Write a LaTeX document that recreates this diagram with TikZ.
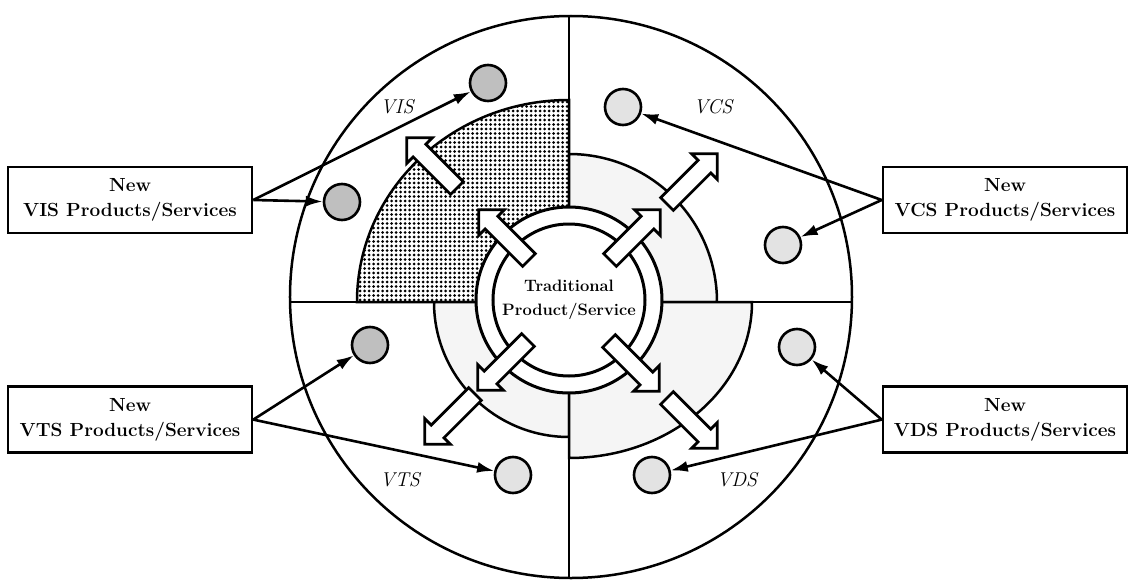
\documentclass[tikz,border=0pt]{standalone}
\usepackage{tikz}
\usetikzlibrary{arrows.meta, positioning, patterns, patterns.meta}
\tikzset{
  prodbox/.style={
    rectangle,
    draw,
    line width=2.6pt,
    align=center,
    minimum width=244pt,
    minimum height=66pt,
    inner sep=4pt,
    font=\bfseries\fontsize{19}{25}\selectfont
  },
  offer/.style={
    circle,
    draw,
    line width=2.6pt,
    minimum size=36pt,
    inner sep=0pt,
    fill=gray!22
  },
  offerdark/.style={offer, fill=gray!50},
  zone/.style={draw, line width=2.5pt},
  zonelabel/.style={font=\itshape\fontsize{20}{22}\selectfont},
  centertext/.style={align=center, font=\bfseries\fontsize{16.5}{24}\selectfont},
  ringline/.style={line width=3pt},
  arrow/.style={-{Latex[length=17pt, width=11pt]}, line width=2.6pt},
  blockline/.style={draw, fill=white, line width=2.8pt, line join=miter},
  blockarr/.pic={
    \path[blockline] (0,-9) -- (53,-9) -- (53,-18) -- (71,0) -- (53,18) -- (53,9) -- (0,9) -- cycle;
  }
}
\begin{document}
\begin{tikzpicture}[x=1pt, y=1pt]
  \useasboundingbox (-569,-277) rectangle (563,302);

  % zones of the four quadrants
  \draw[zone, pattern={Dots[distance=4.5pt, radius=1.5pt]}] (0,0) -- (-212,0) arc[start angle=180, end angle=90, x radius=212, y radius=202] -- cycle;
  \draw[zone, fill=gray!8] (0,0) -- (0,148) arc[start angle=90, end angle=0, radius=148] -- cycle;
  \draw[zone, fill=gray!8] (0,0) -- (-135,0) arc[start angle=180, end angle=270, radius=135] -- cycle;
  \draw[zone, fill=gray!8] (0,0) -- (183,0) arc[start angle=0, end angle=-90, x radius=183, y radius=156] -- cycle;

  \draw[zone] (-279,0) -- (283,0);
  \draw[zone] (0,-276) -- (0,286);
  \draw[zone] (2,5) circle[radius=281];

  % traditional core
  \filldraw[ringline, fill=white] (0,2) circle[radius=93];
  \draw[ringline] (0,2) circle[radius=76];
  \node[centertext] (trad) at (0,2) {Traditional\\Product/Service};

  \pic[rotate=135] (visin) at (-40,42) {blockarr};
  \pic[rotate=45] (vcsin) at (41,42) {blockarr};
  \pic[rotate=225] (vtsin) at (-41,-38) {blockarr};
  \pic[rotate=-45] (vdsin) at (40,-39) {blockarr};
  \pic[rotate=135] (visout) at (-112,114) {blockarr};
  \pic[rotate=45] (vcsout) at (98,98) {blockarr};
  \pic[rotate=225] (vtsout) at (-94,-92) {blockarr};
  \pic[rotate=-45] (vdsout) at (98,-96) {blockarr};

  \node[zonelabel] (vislabel) at (-172,195) {VIS};
  \node[zonelabel] (vcslabel) at (144,195) {VCS};
  \node[zonelabel] (vtslabel) at (-169,-178) {VTS};
  \node[zonelabel] (vdslabel) at (168,-178) {VDS};

  % new offerings
  \node[offerdark] (visa) at (-81,219) {};
  \node[offerdark] (visb) at (-227,100) {};
  \node[offer] (vcsa) at (54,195) {};
  \node[offer] (vcsb) at (214,57) {};
  \node[offerdark] (vtsa) at (-199,-43) {};
  \node[offer] (vtsb) at (-56,-173) {};
  \node[offer] (vdsa) at (228,-45) {};
  \node[offer] (vdsb) at (83,-173) {};

  \node[prodbox] (visbox) at (-439,102) {New\\VIS Products/Services};
  \node[prodbox] (vcsbox) at (436,102) {New\\VCS Products/Services};
  \node[prodbox, below=151pt of visbox] (vtsbox) {New\\VTS Products/Services};
  \node[prodbox, below=151pt of vcsbox] (vdsbox) {New\\VDS Products/Services};

  \draw[arrow] (visbox.east) -- (visa);
  \draw[arrow] (visbox.east) -- (visb);
  \draw[arrow] (vcsbox.west) -- (vcsa);
  \draw[arrow] (vcsbox.west) -- (vcsb);
  \draw[arrow] (vtsbox.east) -- (vtsa);
  \draw[arrow] (vtsbox.east) -- (vtsb);
  \draw[arrow] (vdsbox.west) -- (vdsa);
  \draw[arrow] (vdsbox.west) -- (vdsb);
\end{tikzpicture}
\end{document}
